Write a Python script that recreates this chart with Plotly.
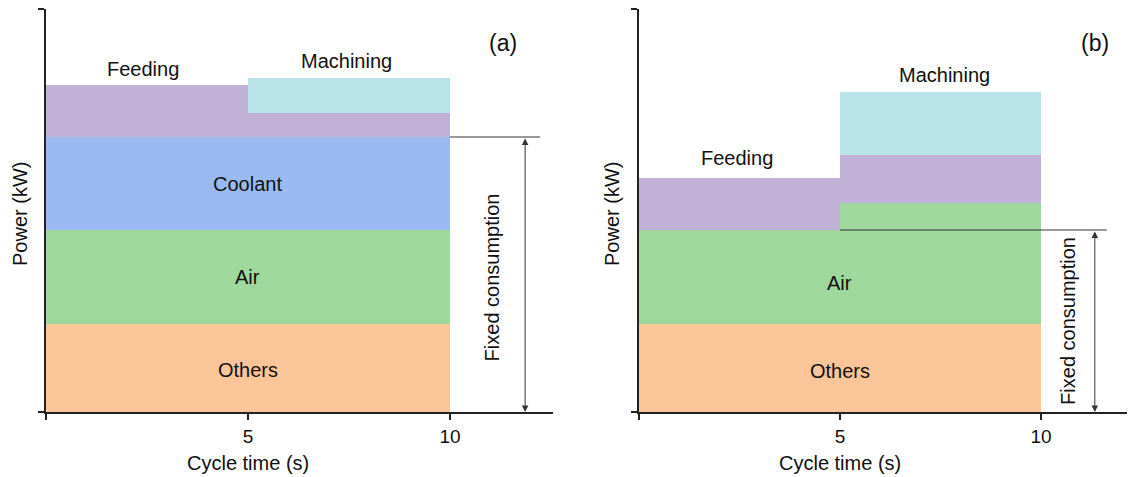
import plotly.graph_objects as go

# ---- data ----
segments_x = [2.5, 7.5]          # centers of the 0-5 s and 5-10 s segments
seg_width = 5
# panel (a)
a_others = [8.8, 8.8]
a_air = [9.4, 9.4]
a_coolant = [9.3, 9.3]
a_feeding = [5.2, 2.4]
a_machining = [0, 3.5]
# panel (b)
b_others = [8.8, 8.8]
b_air = [9.4, 12.1]
b_feeding = [5.2, 4.8]
b_machining = [0, 6.3]

colors = {
    "Others": "#F9C599",
    "Air": "#9ED89C",
    "Coolant": "#9BBAF1",
    "Feeding": "#C1B1D6",
    "Machining": "#B8E3E9",
}

OFF = 8  # page body margin
W, H = 1135 - OFF, 477 - OFF
FONT = "Liberation Sans, Arial, sans-serif"

fig = go.Figure()

def add_stack(names_vals, xa, ya):
    for name, vals in names_vals:
        fig.add_trace(go.Bar(
            x=segments_x, y=vals, width=seg_width, name=name,
            marker=dict(color=colors[name], line=dict(width=0)),
            xaxis=xa, yaxis=ya, showlegend=False, hoverinfo="skip"))

add_stack([("Others", a_others), ("Air", a_air), ("Coolant", a_coolant),
           ("Feeding", a_feeding), ("Machining", a_machining)], "x", "y")
add_stack([("Others", b_others), ("Air", b_air),
           ("Feeding", b_feeding), ("Machining", b_machining)], "x2", "y2")

def px_x(p):
    return (p - OFF) / W

def px_y(p):
    return (H - (p - OFF)) / H

ymax = 40.3
a_fixed = a_others[0] + a_air[0] + a_coolant[0]
b_fixed = b_others[0] + b_air[0]

axis_common = dict(showline=True, linecolor="#222", linewidth=1.5, ticks="outside",
                   ticklen=6, tickcolor="#222", tickwidth=1.5, showgrid=False,
                   zeroline=False, tickfont=dict(family=FONT, size=19, color="#111"))

fig.update_layout(
    width=W, height=H, margin=dict(l=0, r=0, t=0, b=0),
    paper_bgcolor="white", plot_bgcolor="white",
    barmode="stack", bargap=0,
    xaxis=dict(domain=[px_x(46), px_x(553)], range=[0, 12.55], tickvals=[0, 5, 10],
               ticktext=["", "5", "10"], anchor="y", **axis_common),
    yaxis=dict(domain=[px_y(412), px_y(9)], range=[0, ymax], tickvals=[0, ymax],
               ticktext=["", ""], anchor="x", **axis_common),
    xaxis2=dict(domain=[px_x(639), 1.0], range=[0, 12.34], tickvals=[0, 5, 10],
                ticktext=["", "5", "10"], anchor="y2", **axis_common),
    yaxis2=dict(domain=[px_y(412), px_y(9)], range=[0, ymax], tickvals=[0, ymax],
                ticktext=["", ""], anchor="x2", **axis_common),
)

ann = []
def txt(text, x, y, xref, yref, size=20, angle=0):
    ann.append(dict(text=text, x=x, y=y, xref=xref, yref=yref, showarrow=False,
                    textangle=angle, font=dict(family=FONT, size=size, color="#111"),
                    xanchor="center", yanchor="middle"))

# panel (a) labels
txt("Feeding", 2.4, a_fixed + a_feeding[0] + 1.65, "x", "y")
txt("Machining", 7.45, a_fixed + a_feeding[1] + a_machining[1] + 1.75, "x", "y")
txt("Coolant", 5, a_others[0] + a_air[0] + a_coolant[0] / 2, "x", "y")
txt("Air", 5, a_others[0] + a_air[0] / 2, "x", "y")
txt("Others", 5, a_others[0] / 2 - 0.2, "x", "y")
txt("(a)", 11.3, 36.9, "x", "y", size=23)
txt("Fixed consumption", 11.05, 13.5, "x", "y", angle=-90)
# panel (b) labels
txt("Feeding", 2.45, b_others[0] + b_air[0] + b_feeding[0] + 2.0, "x2", "y2")
txt("Machining", 7.6, b_others[1] + b_air[1] + b_feeding[1] + b_machining[1] + 1.7, "x2", "y2")
txt("Air", 5, b_others[0] + 4.1, "x2", "y2")
txt("Others", 5, b_others[0] / 2 - 0.3, "x2", "y2")
txt("(b)", 11.34, 36.9, "x2", "y2", size=23)
txt("Fixed consumption", 10.67, 9.1, "x2", "y2", angle=-90)

# axis titles
txt("Cycle time (s)", px_x(248), px_y(463), "paper", "paper")
txt("Cycle time (s)", px_x(840), px_y(463), "paper", "paper")
txt("Power (kW)", px_x(20), px_y(214), "paper", "paper", angle=-90)
txt("Power (kW)", px_x(612), px_y(214), "paper", "paper", angle=-90)

# double-headed arrows for fixed consumption
for xa, ya, xpos, top in [("x", "y", 11.86, a_fixed), ("x2", "y2", 11.34, b_fixed)]:
    ann.append(dict(x=xpos, y=0, ax=xpos, ay=top, xref=xa, yref=ya, axref=xa, ayref=ya,
                    showarrow=True, arrowhead=2, startarrowhead=2, arrowside="end+start",
                    arrowsize=1.3, arrowwidth=1, arrowcolor="#333", text=""))

fig.update_layout(annotations=ann)

# horizontal reference lines marking the fixed consumption level
fig.add_shape(type="line", x0=10, x1=12.23, y0=a_fixed, y1=a_fixed, xref="x", yref="y",
              line=dict(color="#333", width=1))
fig.add_shape(type="line", x0=5, x1=11.64, y0=b_fixed, y1=b_fixed, xref="x2", yref="y2",
              line=dict(color="#333", width=1))

fig.write_html("out.html")
